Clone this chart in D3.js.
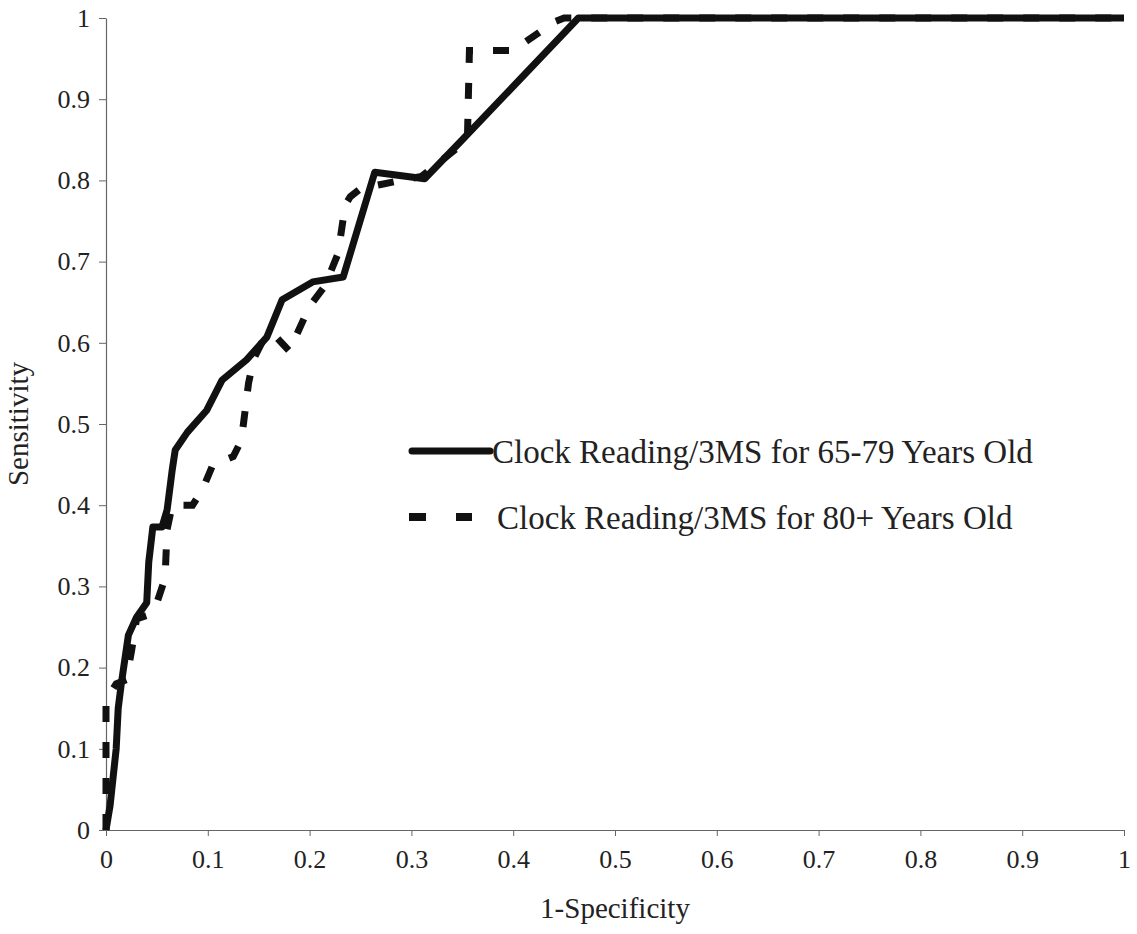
<!DOCTYPE html>
<html>
<head>
<meta charset="utf-8">
<script src="https://cdn.jsdelivr.net/npm/d3@7"></script>
<style>
  body { margin: 0; background: #fff; }
  svg { display: block; }
  text { font-family: "Liberation Serif", "Times New Roman", serif; fill: #222; }
</style>
</head>
<body>
<svg id="chart" width="1137" height="934"></svg>
<script>
// ---- data ----
const tickValues = [0, 0.1, 0.2, 0.3, 0.4, 0.5, 0.6, 0.7, 0.8, 0.9, 1];
const tickLabels = ["0", "0.1", "0.2", "0.3", "0.4", "0.5", "0.6", "0.7", "0.8", "0.9", "1"];
const seriesNames = ["Clock Reading/3MS for 65-79 Years Old", "Clock Reading/3MS for 80+ Years Old"];
const xTitle = "1-Specificity";
const yTitle = "Sensitivity";

// 65-79 years (solid)
const young_fpr = [0, 0.004, 0.010, 0.012, 0.015, 0.022, 0.030, 0.040, 0.042, 0.046, 0.055, 0.060, 0.065, 0.068, 0.080, 0.099, 0.114, 0.138, 0.158, 0.173, 0.203, 0.233, 0.264, 0.313, 0.350, 0.464, 1.0];
const young_tpr = [0, 0.030, 0.100, 0.150, 0.180, 0.240, 0.262, 0.280, 0.330, 0.373, 0.373, 0.394, 0.443, 0.468, 0.490, 0.517, 0.554, 0.579, 0.607, 0.653, 0.675, 0.681, 0.810, 0.802, 0.850, 1.0, 1.0];

// 80+ years (dashed)
const old_fpr = [0, 0, 0.005, 0.010, 0.020, 0.025, 0.030, 0.042, 0.050, 0.058, 0.060, 0.065, 0.085, 0.095, 0.105, 0.125, 0.133, 0.140, 0.145, 0.155, 0.165, 0.180, 0.200, 0.215, 0.228, 0.235, 0.240, 0.250, 0.270, 0.310, 0.345, 0.355, 0.357, 0.372, 0.400, 0.440, 0.450, 1.0];
const old_tpr = [0, 0.160, 0.170, 0.180, 0.185, 0.220, 0.260, 0.265, 0.280, 0.310, 0.370, 0.400, 0.400, 0.420, 0.450, 0.460, 0.480, 0.550, 0.580, 0.605, 0.610, 0.590, 0.645, 0.670, 0.710, 0.770, 0.780, 0.790, 0.795, 0.805, 0.840, 0.850, 0.960, 0.960, 0.960, 0.995, 1.0, 1.0];

// ---- layout ----
const svg = d3.select("#chart");
const margin = { left: 106, top: 18, right: 13, bottom: 104 };
const W = 1137, H = 934;
const x = d3.scaleLinear().domain([0, 1]).range([margin.left, W - margin.right]);
const y = d3.scaleLinear().domain([0, 1]).range([H - margin.bottom, margin.top]);

const axisColor = "#666";

// x axis
const xAxis = d3.axisBottom(x).tickValues(tickValues)
  .tickFormat((d, i) => tickLabels[i]).tickSize(6).tickSizeOuter(0);
const gx = svg.append("g").attr("transform", `translate(0,${y(0)})`).call(xAxis);
gx.select(".domain").attr("stroke", axisColor).attr("stroke-width", 1.2);
gx.selectAll(".tick line").attr("stroke", axisColor);
gx.selectAll(".tick text").attr("font-size", 26).attr("dy", "1.1em").attr("fill", "#222");

// y axis
const yAxis = d3.axisLeft(y).tickValues(tickValues)
  .tickFormat((d, i) => tickLabels[i]).tickSize(7).tickSizeOuter(0);
const gy = svg.append("g").attr("transform", `translate(${x(0)},0)`).call(yAxis);
gy.select(".domain").attr("stroke", axisColor).attr("stroke-width", 1.2);
gy.selectAll(".tick line").attr("stroke", axisColor);
gy.selectAll(".tick text").attr("font-size", 26).attr("x", -16).attr("fill", "#222");

// lines
const line = d3.line().x(d => x(d[0])).y(d => y(d[1])).curve(d3.curveLinear);
const youngPts = young_fpr.map((v, i) => [v, young_tpr[i]]);
const oldPts = old_fpr.map((v, i) => [v, old_tpr[i]]);

svg.append("path").datum(oldPts).attr("d", line)
  .attr("fill", "none").attr("stroke", "#111").attr("stroke-width", 7)
  .attr("stroke-dasharray", "16,20").attr("stroke-linejoin", "miter");

svg.append("path").datum(youngPts).attr("d", line)
  .attr("fill", "none").attr("stroke", "#111").attr("stroke-width", 7)
  .attr("stroke-linejoin", "round");

// legend
const legend = svg.append("g");
legend.append("line").attr("x1", 412).attr("x2", 490).attr("y1", 451).attr("y2", 451)
  .attr("stroke", "#111").attr("stroke-width", 7).attr("stroke-linecap", "round");
legend.append("text").attr("x", 492).attr("y", 463).attr("font-size", 33).text(seriesNames[0]);
legend.append("line").attr("x1", 409).attr("x2", 472).attr("y1", 517).attr("y2", 517)
  .attr("stroke", "#111").attr("stroke-width", 8).attr("stroke-dasharray", "17,30");
legend.append("text").attr("x", 497).attr("y", 529).attr("font-size", 33).text(seriesNames[1]);

// axis titles
svg.append("text").attr("x", x(0.5)).attr("y", 918).attr("text-anchor", "middle")
  .attr("font-size", 29).text(xTitle);
svg.append("text").attr("transform", `translate(28,${y(0.5)}) rotate(-90)`)
  .attr("text-anchor", "middle").attr("font-size", 29).text(yTitle);
</script>
</body>
</html>
